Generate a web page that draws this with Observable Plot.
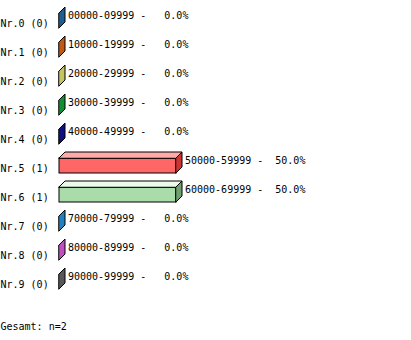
<!DOCTYPE html>
<html>
<head>
<meta charset="utf-8">
<script src="https://cdn.jsdelivr.net/npm/d3@7"></script>
<script src="https://cdn.jsdelivr.net/npm/@observablehq/plot@0.6"></script>
<style>
  html, body { margin: 0; padding: 0; background: #fff; }
  svg text { white-space: pre; }
</style>
</head>
<body>
<div id="chart"></div>
<script>
// Postleitzahl-Bereiche: Anzahl und Anteil je Gruppe
const labels = ["Nr.0", "Nr.1", "Nr.2", "Nr.3", "Nr.4", "Nr.5", "Nr.6", "Nr.7", "Nr.8", "Nr.9"];
const ranges = ["00000-09999", "10000-19999", "20000-29999", "30000-39999", "40000-49999",
                "50000-59999", "60000-69999", "70000-79999", "80000-89999", "90000-99999"];
const counts = [0, 0, 0, 0, 0, 1, 1, 0, 0, 0];
const percents = [0, 0, 0, 0, 0, 50, 50, 0, 0, 0];
const total = 2;

// Face colours for the 3D bars: front, top (lit) and side (shaded)
const frontColors = ["#2f7fbf", "#e07020", "#dede80", "#20b050", "#1818b0",
                     "#ff6666", "#aadcaa", "#30a0e0", "#e070e0", "#808080"];
const topColors   = ["#7fb5df", "#f0a870", "#f0f0c0", "#80d8a0", "#7070e0",
                     "#ffaaaa", "#eafbea", "#90d0f0", "#f0b0f0", "#c0c0c0"];
const sideColors  = ["#1f5f8f", "#c05a10", "#c4c460", "#109030", "#101080",
                     "#cc3333", "#70a070", "#2080c0", "#c050c0", "#585858"];

const rows = labels.map((label, i) => ({
  i, label, range: ranges[i], count: counts[i], pct: percents[i],
  front: frontColors[i], top: topColors[i], side: sideColors[i]
}));

// Geometry (pixels) turned into data units of the scales below
const X0 = 59, X1 = 176, PCT_MAX = 50;      // bar area
const Y0 = 13, ROW = 29;                     // row pitch
const FACE = 15, DEPTH = 6;                  // bar thickness and 3D depth
const pxPerPct = (X1 - X0) / PCT_MAX;
const dX = DEPTH / pxPerPct;
const dY = DEPTH / ROW;
const hY = FACE / ROW;

const topFace = rows.flatMap(d => [
  {row: d.i, y: d.i, x1: 0, x2: d.pct, fill: d.top},
  {row: d.i, y: d.i - dY, x1: dX, x2: d.pct + dX, fill: d.top}
]);
const sideFace = rows.flatMap(d => [
  {row: d.i, x: d.pct, y1: d.i, y2: d.i + hY, fill: d.side},
  {row: d.i, x: d.pct + dX, y1: d.i - dY, y2: d.i + hY - dY, fill: d.side}
]);

const pctText = p => (p.toFixed(1) + "%").padStart(6, " ");

const chart = Plot.plot({
  width: 411,
  height: 340,
  margin: 0,
  style: {fontFamily: "'DejaVu Sans Mono', monospace", fontSize: "10px", color: "#000", background: "#fff"},
  x: {type: "linear", domain: [0, PCT_MAX], range: [X0, X1], axis: null},
  y: {type: "linear", domain: [0, 9], range: [Y0, Y0 + 9 * ROW], axis: null},
  color: {type: "identity"},
  marks: [
    Plot.rect(rows.filter(d => d.pct > 0), {
      x1: 0, x2: "pct", y1: "i", y2: d => d.i + hY,
      fill: "front", stroke: "#000", strokeWidth: 1
    }),
    Plot.areaX(topFace, {
      y: "y", x1: "x1", x2: "x2", z: "row", fill: "fill",
      stroke: "#000", strokeWidth: 1
    }),
    Plot.areaY(sideFace, {
      x: "x", y1: "y1", y2: "y2", z: "row", fill: "fill",
      stroke: "#000", strokeWidth: 1
    }),
    Plot.text(rows, {
      y: d => d.i + 10.5 / ROW,
      text: d => `${d.label} (${d.count})`,
      frameAnchor: "left", textAnchor: "start", fill: "#000"
    }),
    Plot.text(rows, {
      x: d => d.pct + dX, y: d => d.i + 2.5 / ROW, dx: 2.5,
      text: d => `${d.range} - ${pctText(d.pct)}`,
      textAnchor: "start", fill: "#000"
    }),
    Plot.text([`Gesamt: n=${total}`], {
      frameAnchor: "bottom-left", textAnchor: "start", lineAnchor: "bottom",
      dy: -11, fill: "#000"
    })
  ]
});

document.getElementById("chart").append(chart);
</script>
</body>
</html>
